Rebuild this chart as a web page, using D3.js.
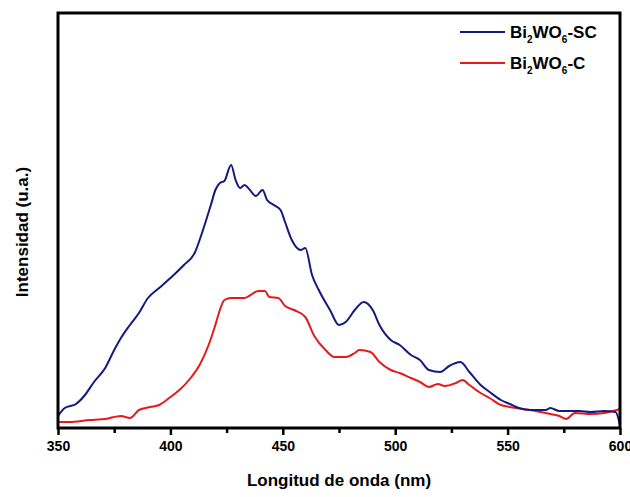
<!DOCTYPE html>
<html>
<head>
<meta charset="utf-8">
<script src="https://cdn.jsdelivr.net/npm/d3@7"></script>
<style>
  body { margin: 0; background: #fff; }
  svg text { font-family: "Liberation Sans", Arial, sans-serif; font-weight: bold; fill: #000; }
</style>
</head>
<body>
<svg id="chart" width="630" height="497"></svg>
<script>
// wavelength (nm) and intensity (arbitrary units)
var scWave = [350,353,358,362,366,371,375,378,382,386,390,395,400,406,411,413,418,420,422,424,
              427,429,431,433,435,438,441,443,446,449,451,454,458,460,463,466,471,475,478,482,
              486,490,493,498,502,507,511,515,520,524,529,533,538,542,547,551,555,560,567,569,
              573,582,587,593,598,600];
var scInt  = [12,20,24,33,46,60,78,90,103,115,130,140,150,163,176,188,223,238,245,247,
              263,248,240,243,239,232,238,228,223,218,206,188,178,180,153,138,118,103,106,118,
              126,118,103,88,83,73,68,58,56,62,66,56,43,36,28,24,20,18,18,20,
              17,17,16,17,16,3];

var cWave = [350,355,364,371,378,382,386,391,395,400,404,409,413,417,420,422,424,427,433,435,
             439,442,444,448,451,455,460,464,469,473,478,482,484,489,493,498,502,507,511,515,
             519,522,527,530,533,538,542,547,551,560,569,573,576,580,587,593,600];
var cInt  = [6,6,8,9,12,10,18,21,23,31,38,50,63,83,103,118,128,130,130,132,
             137,137,131,130,122,118,111,92,78,71,71,75,78,76,66,58,55,50,46,41,
             44,42,45,48,43,35,30,23,21,18,14,12,9,15,14,15,19];

var seriesNames = ["SC", "C"];
var seriesColors = ["#141a7e", "#e8191c"];
var xTicks = [350, 400, 450, 500, 550, 600];
var xMinor = [375, 425, 475, 525, 575];

var svg = d3.select("#chart");
var mLeft = 58, mRight = 620, mTop = 13, mBottom = 428;

var x = d3.scaleLinear().domain([350, 600]).range([mLeft, mRight]);
var y = d3.scaleLinear().domain([0, 415]).range([mBottom, mTop]);

var line = d3.line()
  .x(function(d) { return x(d[0]); })
  .y(function(d) { return y(d[1]); })
  .curve(d3.curveMonotoneX);

var data = [d3.zip(scWave, scInt), d3.zip(cWave, cInt)];

// clip so the lines stay inside the frame
svg.append("clipPath").attr("id", "clip")
  .append("rect").attr("x", mLeft).attr("y", mTop)
  .attr("width", mRight - mLeft).attr("height", mBottom - mTop);

// draw red first so blue sits on top
[1, 0].forEach(function(i) {
  svg.append("path")
    .attr("d", line(data[i]))
    .attr("fill", "none")
    .attr("stroke", seriesColors[i])
    .attr("stroke-width", 2)
    .attr("clip-path", "url(#clip)");
});

// bottom axis with major + minor ticks
var xAxis = svg.append("g")
  .attr("transform", "translate(0," + mBottom + ")")
  .call(d3.axisBottom(x).tickValues(xTicks).tickSize(7).tickPadding(6));
xAxis.select(".domain").remove();
xAxis.selectAll(".tick line").attr("stroke-width", 2.5);
xAxis.selectAll(".tick text").style("font-size", "14px")
  .style("font-family", "'Liberation Sans', Arial, sans-serif").style("font-weight", "bold");

svg.append("g")
  .attr("transform", "translate(0," + mBottom + ")")
  .call(d3.axisBottom(x).tickValues(xMinor).tickSize(5).tickFormat(""))
  .call(function(g) { g.select(".domain").remove(); })
  .selectAll("line").attr("stroke-width", 2.5);

// frame
svg.append("rect")
  .attr("x", mLeft).attr("y", mTop)
  .attr("width", mRight - mLeft).attr("height", mBottom - mTop)
  .attr("fill", "none").attr("stroke", "#000").attr("stroke-width", 3);

// axis titles
svg.append("text")
  .attr("x", (mLeft + mRight) / 2).attr("y", 486)
  .attr("text-anchor", "middle")
  .style("font-size", "17px")
  .text("Longitud de onda (nm)");

svg.append("text")
  .attr("transform", "translate(28,232) rotate(-90)")
  .attr("text-anchor", "middle")
  .style("font-size", "17px")
  .text("Intensidad (u.a.)");

// legend
var legend = svg.append("g");
seriesNames.forEach(function(name, i) {
  var ly = 32 + i * 31;
  legend.append("line")
    .attr("x1", 460).attr("x2", 505).attr("y1", ly).attr("y2", ly)
    .attr("stroke", seriesColors[i]).attr("stroke-width", 2);
  var t = legend.append("text").attr("x", 510).attr("y", ly + 6).style("font-size", "17px");
  t.append("tspan").text("Bi");
  t.append("tspan").attr("dy", 5).style("font-size", "10px").text("2");
  t.append("tspan").attr("dy", -5).text("WO");
  t.append("tspan").attr("dy", 5).style("font-size", "10px").text("6");
  t.append("tspan").attr("dy", -5).text("-" + name);
});
</script>
</body>
</html>
